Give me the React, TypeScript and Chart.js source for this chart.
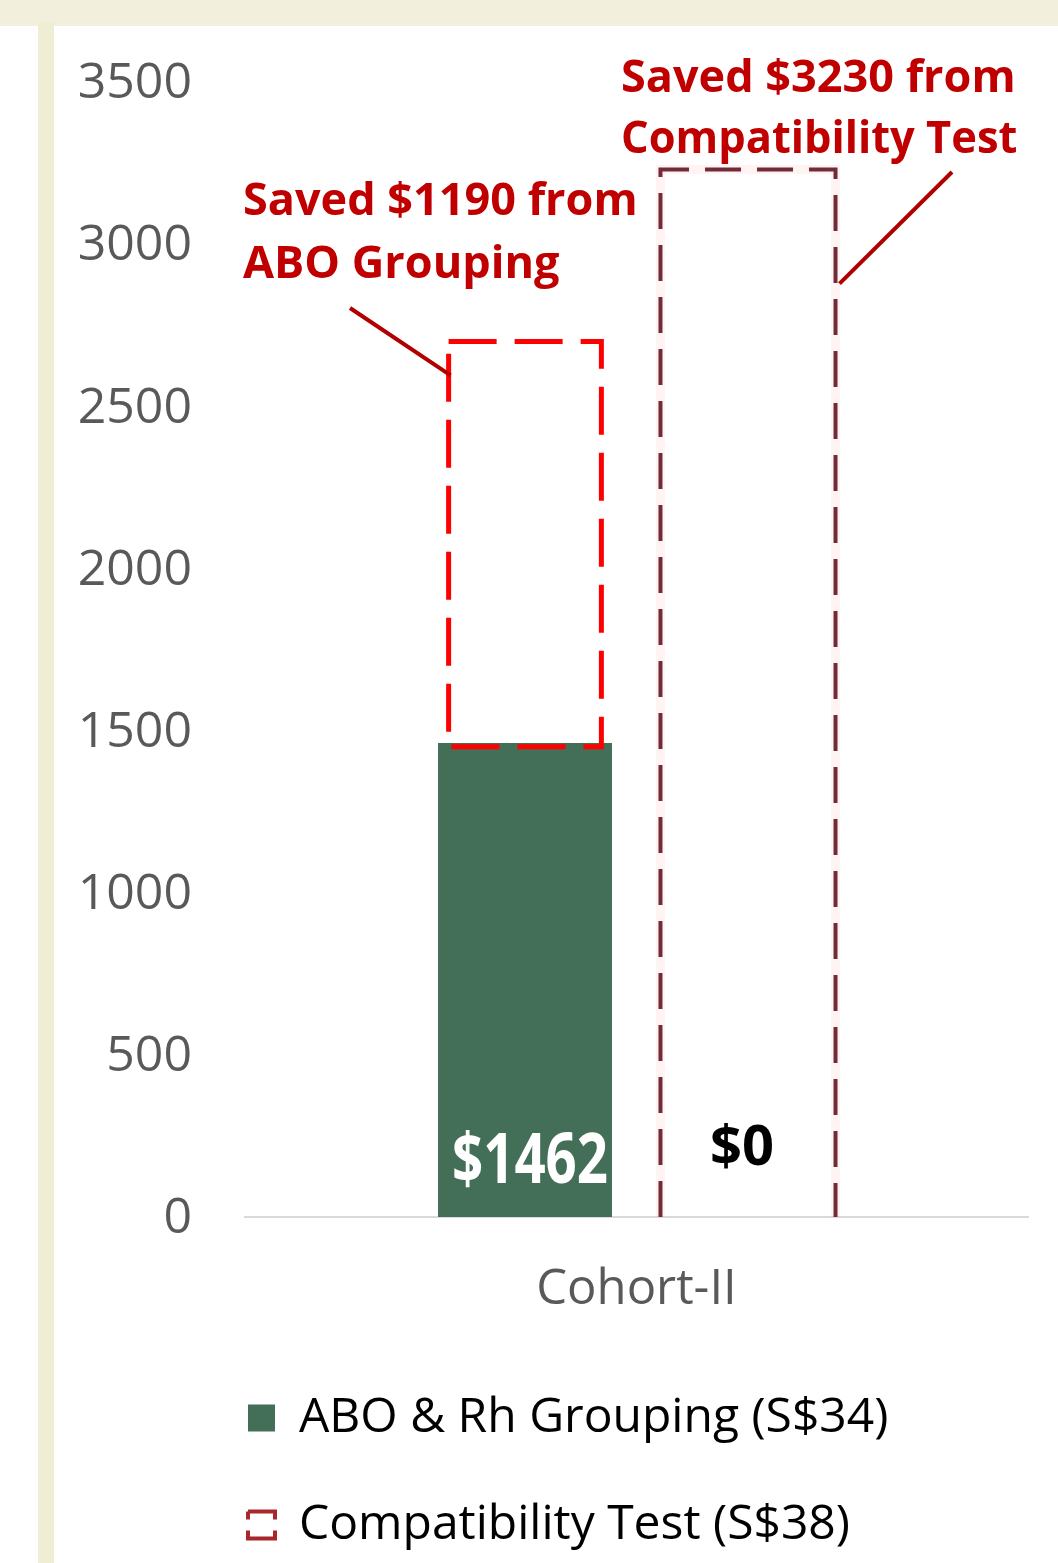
import React, { useEffect, useRef } from 'react';
import { Chart, registerables } from 'chart.js';

Chart.register(...registerables);

// ---------- data ----------
const categories = ['Cohort-II'];
const seriesLabels = ['ABO & Rh Grouping (S$34)', 'Compatibility Test (S$38)'];
const aboRhCost = [1462];
const compatSavedCost = [3230];
const aboSavedRange: [number, number][] = [[1450, 2700]];
const yTickValues = [0, 500, 1000, 1500, 2000, 2500, 3000, 3500];
const barValueLabels = ['$1462', '$0'];
const aboSavedNote = ['Saved $1190 from', 'ABO Grouping'];
const compatSavedNote = ['Saved $3230 from', 'Compatibility Test'];

const GREEN = '#436e57';
const FONT = "'Open Sans', sans-serif";

const legendShiftPlugin = {
  id: 'legendShift',
  afterLayout(chart: any) {
    if (chart.legend) {
      const w = chart.legend.right - chart.legend.left;
      chart.legend.left = 135;
      chart.legend.right = 135 + w;
    }
  },
};

const overlayPlugin = {
  id: 'overlay',
  afterDatasetsDraw(chart: any) {
    const ctx: CanvasRenderingContext2D = chart.ctx;
    const box = (dsIndex: number) => {
      const el = chart.getDatasetMeta(dsIndex).data[0];
      const p = el.getProps(['x', 'y', 'base', 'width'], true);
      return {
        x: p.x,
        l: p.x - p.width / 2,
        r: p.x + p.width / 2,
        t: Math.min(p.y, p.base),
        b: Math.max(p.y, p.base),
      };
    };
    const green = box(0);
    const compat = box(1);
    const abo = box(2);

    ctx.save();
    // compatibility test box: faint pink halo + dark dashed outline (no bottom edge)
    const compatPath = () => {
      ctx.beginPath();
      ctx.moveTo(compat.l, compat.b);
      ctx.lineTo(compat.l, compat.t);
      ctx.lineTo(compat.r, compat.t);
      ctx.lineTo(compat.r, compat.b);
    };
    ctx.setLineDash([]);
    ctx.strokeStyle = 'rgba(255,80,80,0.07)';
    ctx.lineWidth = 9;
    compatPath();
    ctx.stroke();
    ctx.setLineDash([36, 16]);
    ctx.strokeStyle = '#722c38';
    ctx.lineWidth = 4;
    ctx.lineCap = 'butt';
    compatPath();
    ctx.stroke();

    // ABO saved box: bright red dashed rectangle
    ctx.setLineDash([48, 18]);
    ctx.strokeStyle = '#ff0000';
    ctx.lineWidth = 5;
    ctx.strokeRect(abo.l, abo.t, abo.r - abo.l, abo.b - abo.t);
    ctx.setLineDash([]);

    // leader lines
    ctx.strokeStyle = '#b00000';
    ctx.lineWidth = 4;
    ctx.beginPath();
    ctx.moveTo(296, 282);
    ctx.lineTo(abo.l + 2, abo.t + 34);
    ctx.stroke();
    ctx.beginPath();
    ctx.moveTo(898, 146);
    ctx.lineTo(compat.r + 4, compat.t + 114);
    ctx.stroke();

    // annotation notes
    ctx.fillStyle = '#c00000';
    ctx.font = `bold 45px ${FONT}`;
    ctx.textAlign = 'left';
    ctx.textBaseline = 'alphabetic';
    ctx.fillText(aboSavedNote[0], 189, 189);
    ctx.fillText(aboSavedNote[1], 189, 252);
    ctx.fillText(compatSavedNote[0], 567, 66);
    ctx.save();
    ctx.translate(567, 127);
    ctx.scale(0.965, 1);
    ctx.fillText(compatSavedNote[1], 0, 0);
    ctx.restore();

    // value labels
    ctx.textAlign = 'center';
    ctx.fillStyle = '#ffffff';
    ctx.font = `bold 70px ${FONT}`;
    ctx.save();
    ctx.translate(green.x + 5, green.b - 34);
    ctx.scale(0.78, 1);
    ctx.fillText(barValueLabels[0], 0, 0);
    ctx.restore();

    ctx.fillStyle = '#000000';
    ctx.font = `bold 56px ${FONT}`;
    ctx.fillText(barValueLabels[1], compat.x - 6, compat.b - 52);
    ctx.restore();
  },
};

export default function App() {
  const ref = useRef<HTMLCanvasElement>(null);

  useEffect(() => {
    const canvas = ref.current;
    if (!canvas) return;
    const chart = new Chart(canvas, {
      type: 'bar',
      data: {
        labels: categories,
        datasets: [
          {
            label: seriesLabels[0],
            data: aboRhCost,
            backgroundColor: GREEN,
            borderWidth: 0,
            stack: 'a',
            categoryPercentage: 0.5696,
            barPercentage: 0.78,
          } as any,
          {
            label: seriesLabels[1],
            data: compatSavedCost,
            backgroundColor: 'rgba(0,0,0,0)',
            borderWidth: 0,
            stack: 'b',
            categoryPercentage: 0.5696,
            barPercentage: 0.785,
          } as any,
          {
            label: 'ABO saved',
            data: aboSavedRange,
            backgroundColor: 'rgba(0,0,0,0)',
            borderWidth: 0,
            stack: 'a',
            categoryPercentage: 0.5696,
            barPercentage: 0.685,
          } as any,
        ],
      },
      options: {
        responsive: false,
        animation: false,
        devicePixelRatio: 1,
        layout: { padding: { left: 0, right: 30, top: 56, bottom: 4 } },
        font: { family: FONT },
        scales: {
          x: {
            grid: { display: false, drawTicks: false },
            border: { display: true, color: '#d9d9d9', width: 2 },
            ticks: {
              color: '#595959',
              padding: 44,
              font: { family: FONT, size: 49 },
            },
            afterFit: (s: any) => {
              s.height = 118;
            },
          },
          y: {
            stacked: false,
            min: 0,
            max: 3500,
            grid: { display: false, drawTicks: true, tickLength: 53 },
            border: { display: false },
            afterBuildTicks: (s: any) => {
              s.ticks = yTickValues.map((v) => ({ value: v }));
            },
            ticks: {
              color: '#595959',
              padding: 0,
              labelOffset: 2,
              font: { family: FONT, size: 50 },
              callback: (v: any) => String(v),
            },
            afterFit: (s: any) => {
              s.width = 191;
            },
          },
        } as any,
        plugins: {
          tooltip: { enabled: false },
          legend: {
            position: 'bottom',
            align: 'start',
            onClick: () => {},
            labels: {
              color: '#595959',
              font: { family: FONT, size: 48 },
              boxWidth: 27,
              boxHeight: 27,
              padding: 59,
              generateLabels: () => [
                {
                  text: seriesLabels[0],
                  fillStyle: GREEN,
                  strokeStyle: GREEN,
                  lineWidth: 0,
                  hidden: false,
                  datasetIndex: 0,
                } as any,
                {
                  text: seriesLabels[1],
                  fillStyle: '#ffffff',
                  strokeStyle: '#a8262e',
                  lineWidth: 4,
                  lineDash: [35, 11, 43, 11, 8, 0],
                  hidden: false,
                  datasetIndex: 1,
                } as any,
              ],
            },
          },
        },
      },
      plugins: [legendShiftPlugin, overlayPlugin],
    });
    return () => chart.destroy();
  }, []);

  return (
    <div
      style={{
        position: 'absolute',
        left: 0,
        top: 0,
        width: 1058,
        height: 1563,
        background: '#ffffff',
        overflow: 'hidden',
      }}
    >
      <div style={{ position: 'absolute', left: 0, top: 0, width: 1058, height: 26, background: '#f2f0dd' }} />
      <div style={{ position: 'absolute', left: 38, top: 22, width: 16, height: 1541, background: '#efedd4' }} />
      <div style={{ position: 'absolute', left: 54, top: 26, width: 1004, height: 1537 }}>
        <canvas ref={ref} width={1004} height={1537} style={{ display: 'block', width: 1004, height: 1537 }} />
      </div>
    </div>
  );
}
